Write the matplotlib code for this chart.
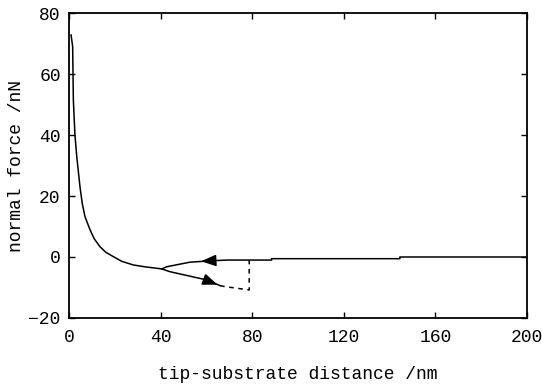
import matplotlib.pyplot as plt
import numpy as np

# approach curve
x_app = [0.9, 1.6, 1.9, 2.6, 3.4, 4.8, 5.8, 7.0, 9.2, 11.0, 13.5, 16.0, 19.4, 23.0, 28.0, 33.0, 38.3, 40.5]
y_app = [72.8, 69.0, 51.5, 40.0, 32.9, 23.0, 17.5, 13.2, 8.9, 6.0, 3.4, 1.6, 0.1, -1.4, -2.6, -3.2, -3.7, -3.9]

# retract branch going back (upper, solid)
x_up = [40.5, 42.7, 52.8, 63.0, 69.6, 78.7, 88.5, 88.5, 144.5, 144.5, 200.0]
y_up = [-3.9, -3.2, -1.7, -1.2, -1.0, -1.0, -1.0, -0.55, -0.55, 0.0, 0.0]

# lower branch (snap), solid then dashed
x_low = [40.5, 44.0, 60.0, 66.0]
y_low = [-3.9, -4.8, -7.5, -9.4]
x_dash = [66.0, 68.0, 78.7, 78.7]
y_dash = [-9.4, -9.7, -10.8, -1.0]

plt.rcParams['font.family'] = ['Liberation Mono', 'DejaVu Sans Mono']

fig = plt.figure(figsize=(5.42, 3.87), dpi=100)
ax = fig.add_axes([0.1273, 0.1783, 0.845, 0.7881])

ax.plot(x_app, y_app, color='black', lw=1.1)
ax.plot(x_up, y_up, color='black', lw=1.1)
ax.plot(x_low, y_low, color='black', lw=1.1)
ax.plot(x_dash, y_dash, color='black', lw=1.1, linestyle=(0, (3, 3)))

# arrow heads
ax.annotate('', xy=(56.5, -1.45), xytext=(64.0, -1.15),
            arrowprops=dict(arrowstyle='-|>,head_length=0.9,head_width=0.35',
                            color='black', lw=1.1))
ax.annotate('', xy=(66.0, -9.4), xytext=(58.0, -7.1),
            arrowprops=dict(arrowstyle='-|>,head_length=0.9,head_width=0.35',
                            color='black', lw=1.1))

ax.set_xlim(0, 200)
ax.set_ylim(-20, 80)
ax.set_xticks([0, 40, 80, 120, 160, 200])
ax.set_yticks([-20, 0, 20, 40, 60, 80])
ax.tick_params(direction='in', top=True, right=True, labelsize=13, length=4, width=1.0, pad=8)
ax.tick_params(axis='y', pad=6)
for s in ax.spines.values():
    s.set_linewidth(1.3)

ax.set_xlabel('tip-substrate distance /nm', fontsize=13, labelpad=14)
ax.set_ylabel('normal force /nN', fontsize=13)
ax.yaxis.set_label_coords(-0.095, 0.5)

fig.savefig('out.png', dpi=100)
